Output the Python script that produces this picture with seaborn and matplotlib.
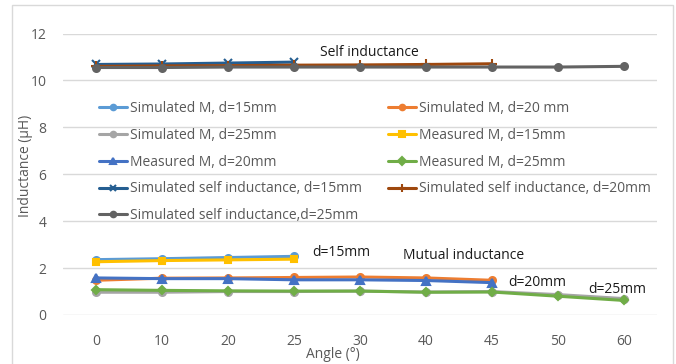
import matplotlib
matplotlib.use("Agg")
import matplotlib.pyplot as plt
from matplotlib.patches import Rectangle
import numpy as np
import pandas as pd
import seaborn as sns

# Angle categories (°) shown as evenly spaced categories on the x axis
angles = [0, 10, 20, 25, 30, 40, 45, 50, 60]

# Mutual inductance (µH)
sim_m_15 = [2.36, 2.40, 2.45, 2.50]
sim_m_20 = [1.48, 1.57, 1.58, 1.60, 1.62, 1.58, 1.48]
sim_m_25 = [0.97, 0.97, 1.00, 1.00, 1.02, 0.98, 1.00, 0.87, 0.70]
meas_m_15 = [2.27, 2.32, 2.35, 2.38]
meas_m_20 = [1.58, 1.55, 1.55, 1.50, 1.50, 1.47, 1.38]
meas_m_25 = [1.08, 1.05, 1.03, 1.02, 1.02, 0.97, 0.98, 0.80, 0.62]

# Self inductance (µH)
self_15 = [10.68, 10.70, 10.74, 10.78]
self_20 = [10.60, 10.62, 10.63, 10.65, 10.66, 10.68, 10.71]
self_25 = [10.55, 10.55, 10.57, 10.57, 10.57, 10.57, 10.57, 10.57, 10.60]

labels = [
    "Simulated M, d=15mm", "Simulated M, d=20 mm", "Simulated M, d=25mm",
    "Measured M, d=15mm", "Measured M, d=20mm", "Measured M, d=25mm",
    "Simulated self inductance, d=15mm", "Simulated self inductance, d=20mm",
    "Simulated self inductance,d=25mm",
]
series = [sim_m_15, sim_m_20, sim_m_25, meas_m_15, meas_m_20, meas_m_25,
          self_15, self_20, self_25]
colors = ["#5B9BD5", "#ED7D31", "#A5A5A5", "#FFC000", "#4472C4", "#70AD47",
          "#255E91", "#9E480E", "#636363"]
markers = ["o", "o", "o", "s", "^", "D", "x", "+", "o"]
msizes = [5, 5, 5, 5, 5.5, 4.5, 5.5, 6.5, 5]

sns.set_theme(style="white")
plt.rcParams["font.family"] = ["Open Sans", "DejaVu Sans"]

fig = plt.figure(figsize=(6.76, 3.64), dpi=100)
ax = fig.add_axes([63 / 676, 1 - 315 / 364, 594 / 676, 281.5 / 364])

pos = {a: i for i, a in enumerate(angles)}
handles = {}
for lab, vals, c, m, ms in zip(labels, series, colors, markers, msizes):
    df = pd.DataFrame({"pos": [pos[a] for a in angles[:len(vals)]], "L": vals})
    sns.lineplot(data=df, x="pos", y="L", ax=ax, color=c, marker=m,
                 markersize=ms, markeredgecolor=c, markeredgewidth=1.5,
                 linewidth=2.2, label=lab, legend=False)
    handles[lab] = ax.lines[-1]

ax.set_xlim(-0.5, len(angles) - 0.5)
ax.set_ylim(0, 12)
ax.set_yticks(np.arange(0, 13, 2))
ax.set_xticks(range(len(angles)))
ax.set_xticklabels([str(a) for a in angles])
ax.tick_params(axis="both", length=0, labelsize=10, labelcolor="#595959")
ax.tick_params(axis="x", pad=14)
ax.tick_params(axis="y", pad=12)
ax.grid(axis="y", color="#D9D9D9", linewidth=1)
for s in ax.spines.values():
    s.set_visible(False)

ax.set_xlabel("Angle (°)", fontsize=10, color="#595959")
ax.xaxis.set_label_coords(0.455, -0.115)
ax.set_ylabel("Inductance (μH)", fontsize=10, color="#595959")
ax.yaxis.set_label_coords(-0.05, 0.53)

# Legend laid out row by row in two columns
left = [labels[i] for i in (0, 2, 4, 6, 8)]
right = [labels[i] for i in (1, 3, 5, 7)]
order = left + right
leg = ax.legend([handles[l] for l in order], order, ncol=2, frameon=False,
                loc="upper left", bbox_to_anchor=(0.052, 0.78),
                fontsize=10, handlelength=2.0, handletextpad=0.2,
                labelspacing=0.85, columnspacing=1.9, borderaxespad=0,
                markerscale=0.8)
for t in leg.get_texts():
    t.set_color("#595959")

# Group annotations
txt = dict(fontsize=10, color="#1a1a1a", va="center", ha="left")
ax.text(3.39, 11.18, "Self inductance", **txt)
ax.text(3.28, 2.67, "d=15mm", **txt)
ax.text(4.65, 2.55, "Mutual inductance", **txt)
ax.text(6.24, 1.38, "d=20mm", **txt)
ax.text(7.46, 1.08, "d=25mm", **txt)

# Chart area border
fig.patches.append(Rectangle((12 / 676, -0.05), 661 / 676, 1.05 - 5 / 364,
                             transform=fig.transFigure, fill=False,
                             edgecolor="#D9D9D9", linewidth=1))

fig.savefig("out.png", dpi=100)
